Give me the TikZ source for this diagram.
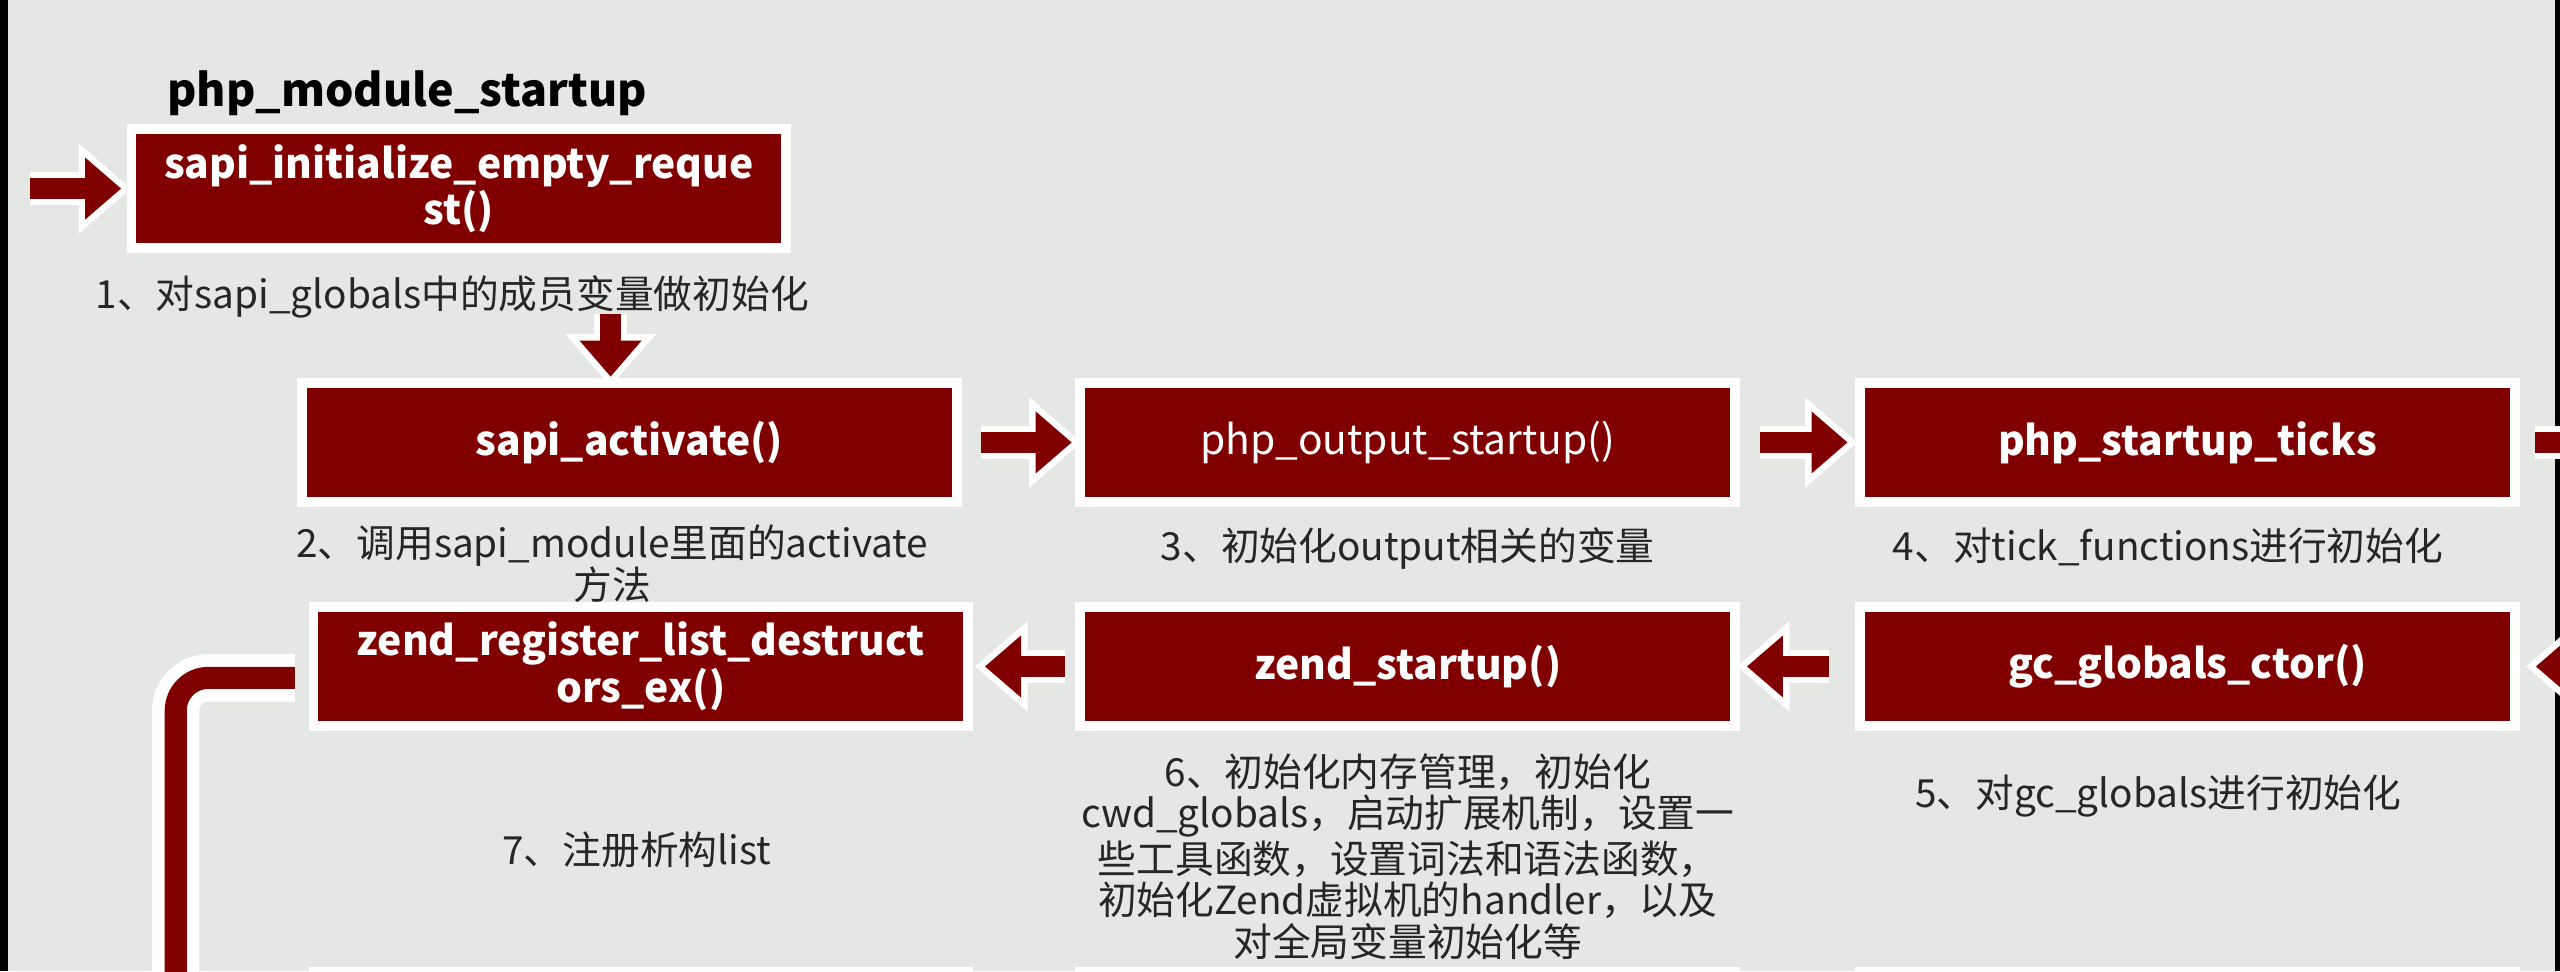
\documentclass[tikz,border=0pt]{standalone}
\usepackage{fontspec}
\setmainfont{Noto Sans CJK SC}
\usetikzlibrary{positioning}
\usetikzlibrary{arrows.meta}
\definecolor{boxred}{RGB}{128,0,0}
\definecolor{slide}{RGB}{228,231,228}
\definecolor{notegray}{RGB}{38,38,38}
\tikzstyle{fnbox} = [fill=boxred, text=white, font=\bfseries\fontsize{14.2}{14.5}\selectfont, align=center, inner sep=0pt, minimum width=7.9cm, minimum height=1.34cm, preaction={draw=white, line width=0.24cm}]
\tikzstyle{note} = [text=notegray, font=\fontsize{13.5}{14.6}\selectfont, align=center, inner sep=0pt]
\tikzstyle{flow} = [draw=boxred, line width=0.25cm, -{Triangle[width=0.76cm, length=0.44cm, line width=0pt, sep=0.12cm]}, preaction={draw=white, line width=0.41cm, -{Triangle[width=1.11cm, length=0.64cm, line width=0pt]}}]
\tikzstyle{backflow} = [draw=boxred, line width=0.27cm, rounded corners=0.4cm, -{Triangle[width=0.76cm, length=0.44cm, line width=0pt, sep=0.12cm]}, preaction={draw=white, line width=0.58cm, -{Triangle[width=1.2cm, length=0.7cm, line width=0pt]}}]

\begin{document}
\begin{tikzpicture}
  \useasboundingbox (0,0) rectangle (31.36,-11.9);
  \clip (0,0) rectangle (31.36,-11.9);
  \fill[slide] (0,0) rectangle (31.36,-11.9);
  \fill[black] (0,0) rectangle (0.1,-11.9);
  \fill[black] (31.3,0) rectangle (31.36,-11.9);

  \node[fnbox] (init) at (5.62,-2.31) {sapi\_initialize\_empty\_reque\\st()};
  \node[above right=0.21cm and 0.38cm of init.north west, inner sep=0pt, font=\bfseries\fontsize{15.6}{17}\selectfont] (title) {php\_module\_startup};
  \node[note, below=0.38cm of init, xshift=-0.08cm] (lab1) {1、对sapi\_globals中的成员变量做初始化};

  \node[fnbox] (sapi) at (7.71,-5.42) {sapi\_activate()};
  \node[fnbox, right=1.62cm of sapi] (outp) {\mdseries php\_output\_startup()};
  \node[fnbox, right=1.64cm of outp] (ticks) {php\_startup\_ticks};
  \node[note, below=0.33cm of sapi, xshift=-0.21cm] (lab2) {2、调用sapi\_module里面的activate\\方法};
  \node[note, below=0.36cm of outp] (lab3) {3、初始化output相关的变量};
  \node[note, below=0.36cm of ticks, xshift=-0.24cm] (lab4) {4、对tick\_functions进行初始化};

  \node[fnbox, below=1.39cm of sapi, xshift=0.14cm] (zreg) {zend\_register\_list\_destruct\\ors\_ex()};
  \node[fnbox, below=1.39cm of outp] (zend) {zend\_startup()};
  \node[fnbox, below=1.39cm of ticks] (gcg) {gc\_globals\_ctor()};
  \node[note, below=1.34cm of zreg, xshift=-0.05cm] (lab7) {7、注册析构list};
  \node[note, below=0.38cm of zend] (lab6) {6、初始化内存管理，初始化\\cwd\_globals，启动扩展机制，设置一\\些工具函数，设置词法和语法函数，\\初始化Zend虚拟机的handler，以及\\对全局变量初始化等};
  \node[note, below=0.64cm of gcg, xshift=-0.36cm] (lab5) {5、对gc\_globals进行初始化};

  \node[fnbox, below=3.12cm of zreg] (nextA) {};
  \node[fnbox, below=3.12cm of zend] (nextB) {};
  \node[fnbox, below=3.12cm of gcg] (nextC) {};

  \coordinate[left=1.29cm of init] (entry);
  \coordinate[right=2cm of ticks] (ticksout);
  \coordinate[right=2cm of gcg] (gcgin);

  \draw[flow, shorten >=0.06cm] (entry) -- (init);
  \draw[flow, shorten <=0.86cm, shorten >=0.01cm] ([xshift=-0.23cm]sapi.north |- init.south) -- ([xshift=-0.23cm]sapi.north);
  \draw[flow, shorten <=0.35cm, shorten >=0.04cm] (sapi) -- (outp);
  \draw[flow, shorten <=0.36cm, shorten >=0.09cm] (outp) -- (ticks);
  \draw[flow, shorten <=0.3cm] (ticks) -- (ticksout);
  \draw[flow, shorten >=0.19cm] (gcgin) -- (gcg);
  \draw[flow, shorten <=0.44cm, shorten >=0.08cm] (gcg) -- (zend);
  \draw[flow, shorten <=0.24cm, shorten >=0.14cm] (zend) -- (zreg);
  \draw[backflow, shorten <=0.28cm] ([yshift=-0.14cm]zreg.west) -| ([xshift=-1.74cm]nextA.west) -- (nextA.west);
\end{tikzpicture}
\end{document}
